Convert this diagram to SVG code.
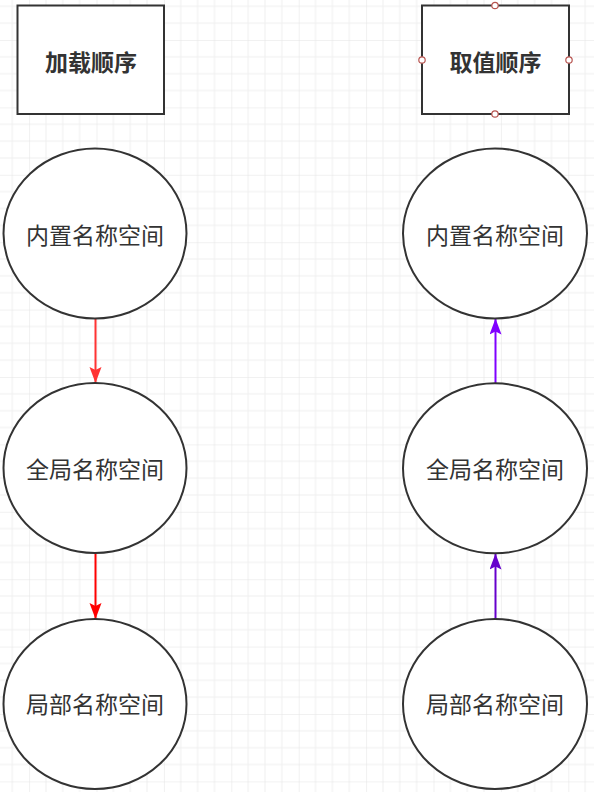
<svg xmlns="http://www.w3.org/2000/svg" width="594" height="792" viewBox="0 0 594 792">
  <style>
    .box { fill: #ffffff; stroke: #333333; stroke-width: 2; }
    .node { fill: #ffffff; stroke: #333333; stroke-width: 2; }
    .title { font-family: "Noto Sans CJK SC", "Liberation Sans", sans-serif; font-size: 23px; font-weight: bold; fill: #333333; text-anchor: middle; }
    .label { font-family: "Noto Sans CJK SC", "Liberation Sans", sans-serif; font-size: 23px; fill: #333333; text-anchor: middle; }
    .cp { fill: #ffffff; stroke: #b85450; stroke-width: 1.2; }
    .edge { fill: none; stroke-width: 2; }
  </style>
  <defs>
    <pattern id="grid" patternUnits="userSpaceOnUse" x="29.1" y="40" width="67.4" height="67.4">
      <path d="M16.85 0V67.4M33.7 0V67.4M50.55 0V67.4M0 16.85H67.4M0 33.7H67.4M0 50.55H67.4" stroke="#f0f0f0" stroke-width="1" fill="none"/>
      <path d="M0 0V67.4M0 0H67.4" stroke="#e3e3e3" stroke-width="1" fill="none"/>
    </pattern>
    <marker id="a1" markerUnits="userSpaceOnUse" markerWidth="20" markerHeight="20" refX="16" refY="6" orient="auto">
      <path d="M0 0L16 6L0 12L3 6Z" fill="#ff3333"/>
    </marker>
    <marker id="a2" markerUnits="userSpaceOnUse" markerWidth="20" markerHeight="20" refX="16" refY="6" orient="auto">
      <path d="M0 0L16 6L0 12L3 6Z" fill="#ff0000"/>
    </marker>
    <marker id="a3" markerUnits="userSpaceOnUse" markerWidth="20" markerHeight="20" refX="16" refY="6" orient="auto">
      <path d="M0 0L16 6L0 12L3 6Z" fill="#7f00ff"/>
    </marker>
    <marker id="a4" markerUnits="userSpaceOnUse" markerWidth="20" markerHeight="20" refX="16" refY="6" orient="auto">
      <path d="M0 0L16 6L0 12L3 6Z" fill="#6600cc"/>
    </marker>
  </defs>
  <rect x="0" y="0" width="594" height="792" fill="#ffffff"/>
  <rect x="0" y="0" width="594" height="792" fill="url(#grid)"/>

  <g id="connectors">
    <path class="edge" d="M95.5 318.5V383" stroke="#ff3333" marker-end="url(#a1)"/>
    <path class="edge" d="M95.5 553V619" stroke="#ff0000" marker-end="url(#a2)"/>
    <path class="edge" d="M495.5 383V318.5" stroke="#7f00ff" marker-end="url(#a3)"/>
    <path class="edge" d="M495.5 619V553.5" stroke="#6600cc" marker-end="url(#a4)"/>
  </g>

  <g id="load-order">
    <rect class="box" x="17.5" y="5.5" width="146.5" height="108.5"/>
    <text class="title" x="91" y="70.5">加载顺序</text>
  </g>
  <g id="lookup-order">
    <rect class="box" x="422" y="5.5" width="147" height="108.5"/>
    <text class="title" x="495.5" y="70.5">取值顺序</text>
    <circle class="cp" cx="495" cy="5.5" r="3.2"/>
    <circle class="cp" cx="495" cy="114" r="3.2"/>
    <circle class="cp" cx="422" cy="60" r="3.2"/>
    <circle class="cp" cx="569" cy="60" r="3.2"/>
  </g>

  <g id="left-builtin">
    <ellipse class="node" cx="95" cy="233.5" rx="91.5" ry="85"/>
    <text class="label" x="95" y="243.7">内置名称空间</text>
  </g>
  <g id="left-global">
    <ellipse class="node" cx="95" cy="468" rx="91.5" ry="85"/>
    <text class="label" x="95" y="478.2">全局名称空间</text>
  </g>
  <g id="left-local">
    <ellipse class="node" cx="95" cy="704" rx="91.5" ry="85"/>
    <text class="label" x="95" y="713">局部名称空间</text>
  </g>

  <g id="right-builtin">
    <ellipse class="node" cx="495" cy="233.5" rx="92" ry="85"/>
    <text class="label" x="495" y="243.7">内置名称空间</text>
  </g>
  <g id="right-global">
    <ellipse class="node" cx="495" cy="468.3" rx="92" ry="85"/>
    <text class="label" x="495" y="478.2">全局名称空间</text>
  </g>
  <g id="right-local">
    <ellipse class="node" cx="495" cy="704" rx="92" ry="85"/>
    <text class="label" x="495" y="713">局部名称空间</text>
  </g>
</svg>
